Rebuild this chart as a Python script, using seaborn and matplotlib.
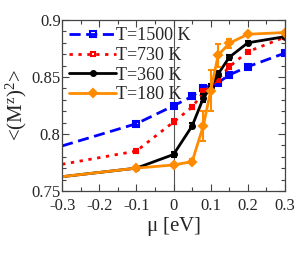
import matplotlib
matplotlib.use("Agg")
import matplotlib.pyplot as plt
import seaborn as sns
import numpy as np
import pandas as pd
from matplotlib.ticker import MultipleLocator

# Data
x_1500 = [-0.3, -0.1, 0.0, 0.05, 0.08, 0.12, 0.15, 0.2, 0.3]
y_1500 = [0.7895, 0.809, 0.8247, 0.8330, 0.8400, 0.8450, 0.8518, 0.8590, 0.8710]
e_1500 = [0, 0.0012, 0.0012, 0.0012, 0.0015, 0.0015, 0.0012, 0.0012, 0.0012]

x_730 = [-0.3, -0.1, 0.0, 0.05, 0.08, 0.12, 0.15, 0.2, 0.3]
y_730 = [0.7734, 0.7850, 0.8105, 0.8235, 0.8365, 0.8480, 0.8590, 0.8722, 0.8850]
e_730 = [0, 0.0018, 0.0022, 0.0018, 0.0030, 0.0025, 0.0020, 0.0012, 0.0012]

x_360 = [-0.3, -0.1, 0.0, 0.05, 0.08, 0.1, 0.12, 0.15, 0.2, 0.3]
y_360 = [0.7625, 0.7700, 0.7820, 0.8070, 0.8313, 0.8410, 0.8526, 0.8673, 0.8800, 0.8854]
e_360 = [0, 0.0008, 0.0018, 0.0022, 0.0035, 0.0025, 0.0025, 0.0020, 0.0012, 0.0010]

x_180 = [-0.3, -0.1, 0.0, 0.05, 0.08, 0.1, 0.12, 0.15, 0.2, 0.3]
y_180 = [0.7625, 0.7700, 0.7728, 0.7757, 0.8070, 0.8380, 0.8690, 0.8796, 0.8875, 0.8890]
e_180 = [0, 0.0008, 0.0012, 0.0020, 0.0130, 0.0180, 0.0100, 0.0040, 0.0012, 0.0010]

labels = ["T=1500 K", "T=730 K", "T=360 K", "T=180 K"]
x_ticks = [-0.3, -0.2, -0.1, 0, 0.1, 0.2, 0.3]
y_ticks = [0.75, 0.8, 0.85, 0.9]

sns.set_style("ticks")
plt.rcParams['font.family'] = ['Liberation Serif', 'DejaVu Serif']
plt.rcParams['mathtext.fontset'] = 'custom'
plt.rcParams['mathtext.rm'] = 'Liberation Serif'
plt.rcParams['mathtext.it'] = 'Liberation Serif'

fig = plt.figure(figsize=(3.0, 2.63), dpi=100)
ax = fig.add_axes([0.207, 0.274, 0.743, 0.650])

ax.axvline(0, color='#555555', lw=0.8, zorder=0)

series = [
    (x_1500, y_1500, e_1500, labels[0], '#0000ff', (0, (4, 2)), 's', 'none', 4),
    (x_730, y_730, e_730, labels[1], '#ff0000', (0, (1.2, 2.0)), 's', 'none', 3.5),
    (x_360, y_360, e_360, labels[2], '#000000', '-', 'o', '#000000', 3.5),
    (x_180, y_180, e_180, labels[3], '#ff8c00', '-', 'D', '#ff8c00', 4),
]

for xs, ys, es, lab, col, ls, mk, mfc, ms in series:
    df = pd.DataFrame({"x": xs, "y": ys})
    sns.lineplot(data=df, x="x", y="y", ax=ax, color=col, linestyle=ls,
                 marker=mk, markerfacecolor=mfc, markeredgecolor=col,
                 markeredgewidth=1.5, markersize=ms, lw=2, label=lab,
                 markevery=list(range(1, len(xs))), sort=False)
    ax.errorbar(xs[1:], ys[1:], yerr=es[1:], fmt='none', ecolor=col,
                elinewidth=1.5, capsize=2.5, capthick=1.5)

ax.set_xlim(-0.3, 0.3)
ax.set_ylim(0.75, 0.9)
ax.set_xticks(x_ticks)
ax.set_xticklabels(["-0.3", "-0.2", "-0.1", "0", "0.1", "0.2", "0.3"])
ax.set_yticks(y_ticks)
ax.set_yticklabels(["0.75", "0.8", "0.85", "0.9"])
ax.xaxis.set_minor_locator(MultipleLocator(0.05))
ax.yaxis.set_minor_locator(MultipleLocator(0.01))
ax.tick_params(which='both', direction='in', top=True, right=True,
               labelsize=12, color='#444444')
ax.tick_params(axis='x', which='major', length=5, width=0.8, pad=5)
ax.tick_params(axis='y', which='major', length=5, width=0.8, pad=1)
ax.tick_params(which='minor', length=3, width=0.8)
for s in ax.spines.values():
    s.set_linewidth(0.9)
    s.set_color('#444444')
# nudge the bottom y label up slightly so it clears "-0.3"
ax.get_yticklabels()[0].set_verticalalignment('center_baseline')

ax.set_xlabel(r"$\mu$ [eV]", fontsize=15, labelpad=1)
ax.set_ylabel(r"<(M$^z$)$^2$>", fontsize=15, labelpad=2)

leg = ax.legend(loc='upper left', frameon=False, fontsize=13,
                handlelength=2.6, handletextpad=0.0, labelspacing=0.15,
                borderaxespad=0.1, borderpad=0.3)

fig.savefig("out.png", dpi=100)
